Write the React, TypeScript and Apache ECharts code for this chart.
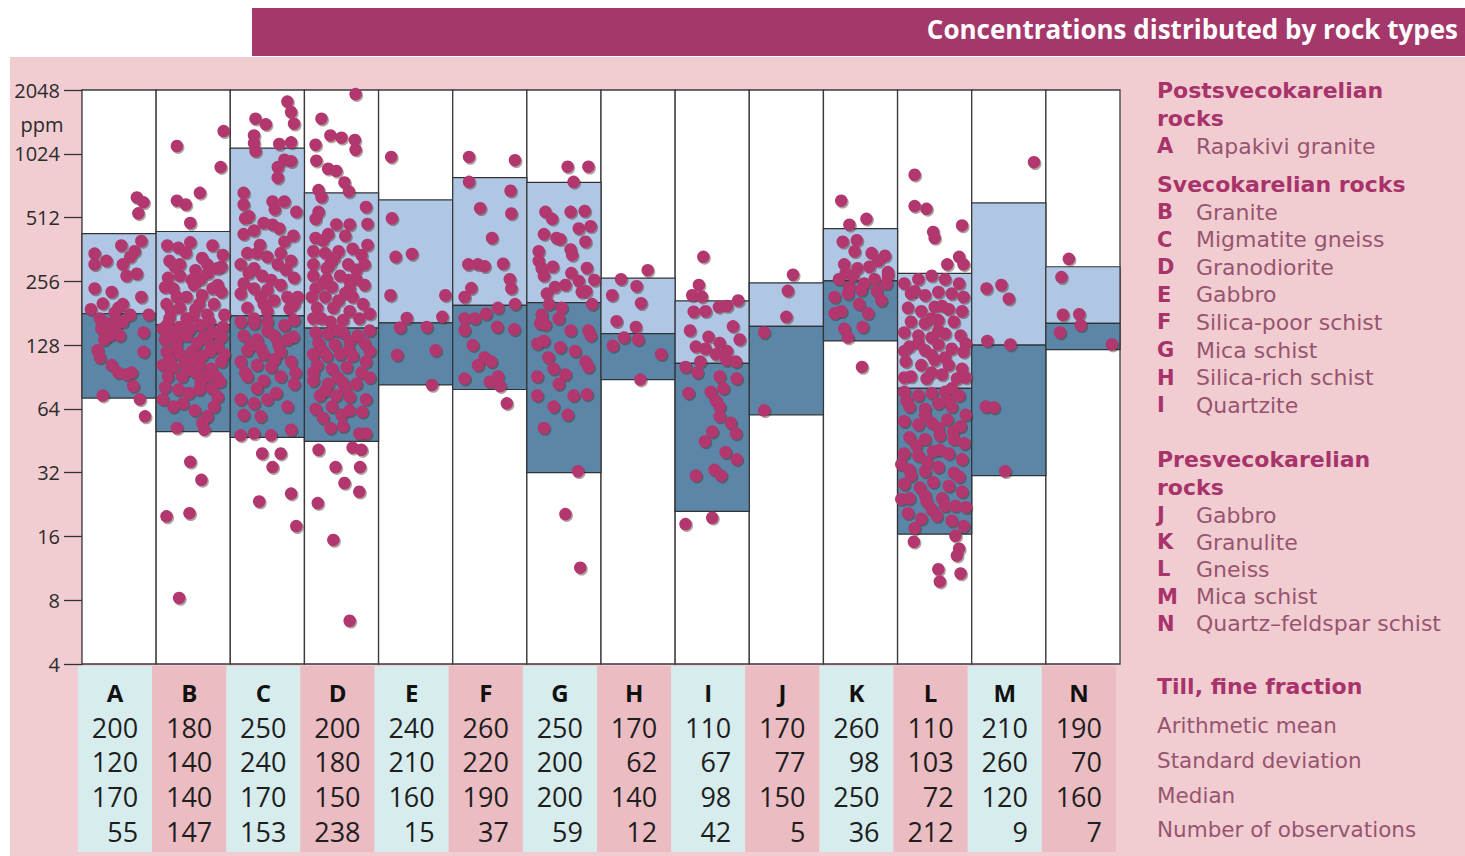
import React, { useEffect, useRef } from "react";
import * as echarts from "echarts";

const categories = ["A", "B", "C", "D", "E", "F", "G", "H", "I", "J", "K", "L", "M", "N"];
const boxLow = [72, 50, 47, 45, 83, 79, 32, 88, 21, 60, 134, 16.4, 31, 122];
const boxMid = [180, 160, 176, 154, 163, 197, 203, 145, 105, 157, 257, 80, 128, 162];
const boxHigh = [430, 440, 1090, 670, 620, 790, 750, 265, 207, 252, 454, 279, 600, 300];

const arithmeticMean = [200, 180, 250, 200, 240, 260, 250, 170, 110, 170, 260, 110, 210, 190];
const standardDeviation = [120, 140, 240, 180, 210, 220, 200, 62, 67, 77, 98, 103, 260, 70];
const medianValues = [170, 140, 170, 150, 160, 190, 200, 140, 98, 150, 250, 72, 120, 160];
const observations = [55, 147, 153, 238, 15, 37, 59, 12, 42, 5, 36, 212, 9, 7];

const postNames = ["Rapakivi granite"];
const svecoNames = ["Granite", "Migmatite gneiss", "Granodiorite", "Gabbro", "Silica-poor schist", "Mica schist", "Silica-rich schist", "Quartzite"];
const preNames = ["Gabbro", "Granulite", "Gneiss", "Mica schist", "Quartz–feldspar schist"];
const statLabels = ["Arithmetic mean", "Standard deviation", "Median", "Number of observations"];

// dots: [position within column 0..1, ppm]
const dotsA = [[.74,637],[.83,604],[.76,536],[.17,346],[.17,308],[.53,378],[.80,397],[.71,355],[.55,308],[.60,272],[.74,278],[.17,237],[.40,228],[.80,216],[.28,201],[.49,192],[.12,189],[.65,178],[.90,178],[.24,171],[.35,162],[.42,147],[.51,142],[.30,136],[.83,147],[.21,121],[.24,112],[.83,119],[.40,103],[.49,95],[.60,93],[.67,95],[.69,82],[.28,74],[.78,71],[.85,59],[.55,165],[.46,160],[.37,142],[.26,153],[.44,182],[.55,200],[.33,320],[.65,334]];
const dotsB = [[.28,1114],[.91,1310],[.87,886],[.28,615],[.40,590],[.59,670],[.46,483],[.15,378],[.30,369],[.46,391],[.76,378],[.90,341],[.18,320],[.32,308],[.53,289],[.69,308],[.83,295],[.16,266],[.32,272],[.51,246],[.76,237],[.88,228],[.28,216],[.41,216],[.62,220],[.14,200],[.32,192],[.53,189],[.78,200],[.69,178],[.92,178],[.18,171],[.41,171],[.83,246],[.58,200],[.23,237],[.60,262],
  [.09,153],[.21,147],[.32,156],[.46,153],[.60,159],[.76,147],[.90,156],[.12,136],[.28,134],[.41,142],[.55,131],[.69,136],[.83,126],[.14,119],[.32,116],[.48,119],[.62,114],[.92,116],[.09,103],[.23,101],[.39,105],[.58,103],[.74,99],[.88,107],[.16,91],[.35,91],[.53,95],[.67,91],[.81,91],[.12,81],[.30,79],[.44,76],[.58,79],[.83,73],[.09,71],[.78,65.6],[.69,59],[.62,55],[.65,51],[.28,52],[.23,65.6],
  [.46,36],[.61,29.6],[.14,19.9],[.45,20.6],[.31,8.2],
  [.20,185],[.50,175],[.72,165],[.35,150],[.64,140],[.27,125],[.50,110],[.73,120],[.42,98],[.18,110],[.86,86],[.60,85],[.36,68],[.52,63],[.75,80],[.88,140],[.15,160],[.48,260],[.70,280],[.25,300],[.62,330],[.40,350],[.88,300],[.12,240]];
const dotsC = [[.77,1806],[.82,1612],[.34,1500],[.48,1410],[.86,1420],[.32,1250],[.32,1150],[.66,1140],[.82,1160],[.34,1055],
  [.73,960],[.82,945],[.64,886],[.64,790],[.18,670],[.18,590],[.57,610],[.73,610],[.89,545],[.20,508],[.45,483],[.57,474],[.66,455],[.18,428],[.32,445],[.73,394],[.23,348],[.36,348],[.50,334],[.68,348],[.14,308],[.32,295],[.64,308],[.82,320],[.43,272],[.86,266],[.18,250],[.32,237],[.50,233],[.68,246],[.14,224],[.41,216],[.59,208],[.77,216],[.91,216],[.23,192],[.50,185],[.86,200],[.32,171],
  [.14,165],[.32,162],[.50,165],[.73,159],[.86,168],[.18,142],[.36,136],[.59,142],[.77,136],[.23,121],[.45,116],[.68,119],[.14,107],[.36,103],[.55,101],[.82,107],[.23,91],[.45,87],[.68,91],[.86,84],[.14,71],[.32,68],[.50,71],[.77,65.6],[.18,60],[.41,59],[.82,51],[.14,48],[.32,49],[.55,48],
  [.43,39.4],[.57,34],[.68,39.4],[.82,25.5],[.39,23.4],[.89,17.9],
  [.55,260],[.25,280],[.75,290],[.40,380],[.85,420],[.60,560],[.25,520],[.50,150],[.65,128],[.28,128],[.85,140],[.40,125],[.60,110],[.88,95],[.36,80],[.62,76],[.20,95],[.80,190],[.45,200]];
const dotsD = [[.69,1960],[.23,1500],[.35,1250],[.50,1220],[.68,1190],[.69,1070],[.15,1130],[.16,950],[.32,870],[.43,850],[.54,750],[.60,680],[.19,690],[.23,640],
  [.83,575],[.19,545],[.15,505],[.43,475],[.61,475],[.85,478],[.15,410],[.32,428],[.12,355],[.28,348],[.46,355],[.65,365],[.77,341],[.12,308],[.30,295],[.59,308],[.81,308],[.12,272],[.30,262],[.48,272],[.70,262],[.15,237],[.37,241],[.61,237],[.81,246],[.10,216],[.28,216],[.46,208],[.65,216],[.79,200],[.17,192],[.39,192],[.61,185],[.12,171],[.35,165],[.52,168],[.74,171],[.23,171],
  [.15,147],[.32,145],[.52,147],[.72,142],[.19,131],[.41,129],[.61,134],[.81,131],[.12,116],[.30,114],[.48,116],[.65,114],[.83,107],[.17,103],[.37,99],[.57,101],[.77,95],[.12,87],[.32,84],[.52,85],[.70,84],[.21,74],[.43,74],[.61,73],[.83,71],[.15,64],[.37,65.6],[.61,63],[.35,52],[.52,53],[.74,49],[.83,49],
  [.19,41],[.65,42],[.77,41],[.42,34],[.75,34],[.54,28.6],[.74,26],[.18,23],[.39,15.4],[.61,6.4],
  [.25,400],[.55,420],[.85,380],[.40,330],[.70,290],[.25,250],[.55,225],[.88,180],[.45,150],[.25,120],[.60,122],[.88,120],[.45,90],[.88,90],[.28,78],[.55,80],[.78,62],[.25,58],[.50,60],[.12,95],[.88,150],[.35,310],[.60,260]];
const dotsE = [[.17,990],[.18,508],[.23,334],[.45,345],[.16,220],[.90,220],[.38,172],[.86,174],[.29,155],[.65,156],[.77,121],[.25,115],[.72,83]];
const dotsF = [[.22,990],[.84,955],[.22,755],[.78,685],[.37,567],[.79,535],[.53,410],[.21,308],[.34,308],[.43,302],[.68,310],[.25,238],[.16,216],[.77,262],[.79,237],[.84,200],[.61,192],[.45,180],[.16,171],[.30,171],[.16,151],[.27,128],[.60,156],[.83,152],[.43,112],[.52,107],[.34,103],[.61,91],[.50,86],[.16,89],[.73,68],[.64,82]];
const dotsG = [[.55,890],[.83,890],[.63,755],[.25,545],[.34,505],[.59,545],[.78,550],[.23,428],[.45,405],[.70,455],[.86,466],[.79,394],[.16,355],[.16,320],[.59,362],[.61,341],[.20,295],[.23,272],[.81,296],[.91,260],[.70,257],[.38,241],[.52,246],[.27,224],[.74,228],[.20,178],[.47,192],[.18,162],[.43,171],[.59,150],[.83,150],[.23,134],[.86,142],[.29,112],[.36,99],[.79,107],[.83,101],[.14,91],[.52,93],[.43,84],[.14,74],[.63,74],[.81,75],[.36,65.6],[.23,52],[.69,32.5],[.52,20.4],[.72,11.4],
  [.35,300],[.60,280],[.88,200],[.30,200],[.65,120],[.45,125],[.14,130],[.55,60],[.80,230],[.40,410],[.25,160]];
const dotsH = [[.27,262],[.63,289],[.48,243],[.15,220],[.54,202],[.21,166],[.47,156],[.31,139],[.16,127],[.50,136],[.81,116],[.53,88]];
const dotsI = [[.38,334],[.32,246],[.23,220],[.36,217],[.25,184],[.41,185],[.59,194],[.70,196],[.85,208],[.78,157],[.60,131],[.87,136],[.28,126],[.41,123],[.55,116],[.14,101],[.34,107],[.69,109],[.82,107],[.60,91],[.48,77],[.18,76],[.83,89],[.60,65.6],[.60,59],[.50,50],[.82,49],[.68,40],[.83,37],[.28,31],[.53,33],[.62,31],[.50,19.6],[.14,18.3],
  [.45,140],[.70,120],[.30,95],[.55,70],[.75,55],[.40,45],[.65,80],[.20,150]];
const dotsJ = [[.59,275],[.52,231],[.50,174],[.20,147],[.20,63]];
const dotsK = [[.24,615],[.35,474],[.58,505],[.26,394],[.42,355],[.65,348],[.83,338],[.28,308],[.46,295],[.74,320],[.87,283],[.21,262],[.40,272],[.55,250],[.69,262],[.87,272],[.15,216],[.33,224],[.51,233],[.78,208],[.24,185],[.60,181],[.15,181],[.28,153],[.53,156],[.33,139],[.52,101],
  [.45,400],[.62,300],[.35,240],[.72,230],[.48,200],[.85,250],[.30,280]];
const dotsL = [[.23,815],[.23,580],[.39,563],[.48,438],[.50,410],[.87,470],[.83,334],[.89,308],[.67,308],
  [.09,250],[.28,262],[.46,272],[.64,262],[.83,250],[.18,224],[.37,220],[.55,228],[.73,224],[.89,216],[.14,192],[.32,185],[.50,194],[.69,189],[.87,185],[.18,165],[.37,162],[.55,168],[.76,165],[.09,147],[.28,142],[.46,139],[.64,145],[.85,142],[.16,126],[.37,121],[.55,129],[.73,123],[.89,119],[.11,107],[.32,103],[.50,109],[.69,103],[.87,99],[.18,91],[.39,89],[.60,93],[.80,89],
  [.09,77],[.28,74],[.46,76],[.64,77],[.83,74],[.16,65.6],[.37,64],[.55,68],[.73,65.6],[.92,60],[.09,56],[.28,54],[.46,55],[.67,57],[.85,53],[.16,47],[.37,46],[.57,48],[.76,46],[.09,39.4],[.28,38.5],[.48,40.4],[.69,39.4],[.87,37],[.16,33],[.37,32.5],[.55,34],[.76,32],[.09,28.3],[.30,27.2],[.48,28.9],[.69,27.7],[.87,26],[.16,24.2],[.39,23.4],[.60,24.2],[.78,22.3],[.14,20.6],[.32,19.4],[.53,20],[.73,19],[.89,17.9],[.23,17.5],
  [.22,15.1],[.78,16.1],[.80,13],[.55,11.2],[.57,9.8],[.85,10.7],[.83,14],
  [.23,230],[.60,196],[.46,171],[.28,131],[.64,112],[.46,95],[.73,80],[.37,60],[.57,41],[.18,31],[.64,22.3],[.37,25],[.83,30.6],[.55,150],[.09,120],[.92,130],[.92,90],[.09,90],[.46,115],[.75,50],[.25,43],[.55,52],[.90,44],[.12,70],[.68,70],[.05,35],[.40,36],[.92,22],[.05,24],[.46,21.5]];
const dotsM = [[.84,935],[.20,237],[.40,246],[.50,212],[.21,134],[.52,129],[.19,65.6],[.30,65],[.45,32.5]];
const dotsN = [[.31,327],[.21,268],[.23,178],[.45,179],[.47,159],[.19,147],[.89,129]];
const allDots = [dotsA, dotsB, dotsC, dotsD, dotsE, dotsF, dotsG, dotsH, dotsI, dotsJ, dotsK, dotsL, dotsM, dotsN];

const W = 1465, H = 856;
const GL = 82, GR = 1120, GT = 90, GB = 664;
const colW = (GR - GL) / 14;
const FONT = '"Open Sans", "DejaVu Sans", sans-serif';
const LFONT = '"DejaVu Sans", "Open Sans", sans-serif';
const MAGENTA = "#a8336a";
const MAUVE = "#97546f";

function txt(x: number, y: number, text: string, font: string, fill: string, align: string) {
  return { type: "text", z: 5, x, y, style: { text, font, fill, textAlign: align, textVerticalAlign: "middle", align, verticalAlign: "middle" } };
}

function buildGraphic() {
  const els: any[] = [];
  els.push({ type: "rect", z: -20, shape: { x: 10, y: 57, width: W - 10, height: H - 57 }, style: { fill: "#f1cdd2" } });
  els.push({ type: "rect", z: -19, shape: { x: 252, y: 8, width: W - 252, height: 48 }, style: { fill: "#a5386a" } });
  els.push(txt(1458, 29, "Concentrations distributed by rock types", `bold 26px ${FONT}`, "#ffffff", "right"));
  els.push(txt(42, 124, "ppm", `20px ${FONT}`, "#2b2b2b", "center"));

  // table
  const rows = [arithmeticMean, standardDeviation, medianValues, observations];
  const rowY = [727, 761, 796, 831];
  categories.forEach((c, i) => {
    const left = GL + i * colW - 4;
    els.push({ type: "rect", z: -18, shape: { x: left, y: 666, width: colW, height: 186 }, style: { fill: i % 2 === 0 ? "#d7ecec" : "#ecbcc3" } });
    els.push(txt(left + colW / 2, 692, c, `bold 24px ${FONT}`, "#111", "center"));
    rows.forEach((r, k) => {
      els.push(txt(left + colW - 14, rowY[k], String(r[i]), `27px ${FONT}`, "#1e1e1e", "right"));
    });
  });

  // legend
  const LX = 1157, TX = 1196;
  const heading = (t: string, y: number) => els.push(txt(LX, y, t, `bold 22px ${LFONT}`, MAGENTA, "left"));
  const item = (letter: string, t: string, y: number) => {
    els.push(txt(LX, y, letter, `bold 21px ${LFONT}`, MAGENTA, "left"));
    els.push(txt(TX, y, t, `22px ${LFONT}`, MAUVE, "left"));
  };
  heading("Postsvecokarelian", 90);
  heading("rocks", 118);
  postNames.forEach((t, k) => item(categories[k], t, 146));
  heading("Svecokarelian rocks", 184);
  svecoNames.forEach((t, k) => item(categories[1 + k], t, 212 + k * 27.6));
  heading("Presvecokarelian", 459);
  heading("rocks", 487);
  preNames.forEach((t, k) => item(categories[9 + k], t, 515 + k * 27.2));
  heading("Till, fine fraction", 686);
  statLabels.forEach((t, k) => els.push(txt(LX, [725, 760, 795, 829][k], t, `21.5px ${LFONT}`, MAUVE, "left")));
  return els;
}

export default function App() {
  const ref = useRef<HTMLDivElement>(null);
  useEffect(() => {
    document.body.style.margin = "0";
    if (!ref.current) return;
    const chart = echarts.init(ref.current, undefined, { renderer: "svg" });
    const scatterData: number[][] = [];
    allDots.forEach((arr, i) => arr.forEach(([f, v]) => scatterData.push([i + f, v])));
    const option: any = {
      animation: false,
      backgroundColor: "#ffffff",
      grid: { left: GL, top: GT, width: GR - GL, height: GB - GT, containLabel: false },
      xAxis: { type: "value", min: 0, max: 14, show: false },
      yAxis: {
        type: "log", logBase: 2, min: 4, max: 2048, interval: 1,
        axisLine: { show: true, lineStyle: { color: "#333", width: 1.3 } },
        axisTick: { show: true, length: 18, lineStyle: { color: "#333", width: 1.3 } },
        axisLabel: { fontSize: 20, color: "#2b2b2b", fontFamily: FONT, margin: 22, formatter: (v: number) => String(Math.round(v)) },
        splitLine: { show: false },
      },
      graphic: { elements: buildGraphic() },
      series: [
        {
          type: "custom", z: 1,
          data: categories.map((c, i) => [i]),
          renderItem: (params: any, api: any) => {
            const i = api.value(0);
            const p0 = api.coord([i, 2048]);
            const p1 = api.coord([i + 1, 4]);
            return { type: "rect", shape: { x: p0[0], y: p0[1], width: p1[0] - p0[0], height: p1[1] - p0[1] }, style: { fill: "#ffffff", stroke: "#3a3a3a", lineWidth: 1.3 } };
          },
        },
        {
          type: "custom", z: 2,
          data: categories.map((c, i) => [i, boxLow[i], boxMid[i], boxHigh[i]]),
          renderItem: (params: any, api: any) => {
            const i = api.value(0);
            const lo = api.coord([i, api.value(1)]);
            const mid = api.coord([i, api.value(2)]);
            const hi = api.coord([i, api.value(3)]);
            const r = api.coord([i + 1, api.value(1)]);
            const w = r[0] - lo[0];
            return {
              type: "group",
              children: [
                { type: "rect", shape: { x: lo[0], y: hi[1], width: w, height: mid[1] - hi[1] }, style: { fill: "#afc6e5", stroke: "#333", lineWidth: 1.2 } },
                { type: "rect", shape: { x: lo[0], y: mid[1], width: w, height: lo[1] - mid[1] }, style: { fill: "#5b86a8", stroke: "#333", lineWidth: 1.2 } },
              ],
            };
          },
        },
        {
          type: "scatter", z: 3,
          symbolSize: 12.5,
          symbolOffset: [1.3, 1.6],
          data: scatterData,
          silent: true,
          itemStyle: { color: "rgba(70,45,35,0.55)" },
        },
        {
          type: "scatter", z: 4,
          symbolSize: 12.5,
          data: scatterData,
          itemStyle: { color: "#b1376e", opacity: 1 },
        },
      ],
    };
    chart.setOption(option);
    return () => chart.dispose();
  }, []);
  return <div ref={ref} style={{ width: W, height: H }} />;
}
